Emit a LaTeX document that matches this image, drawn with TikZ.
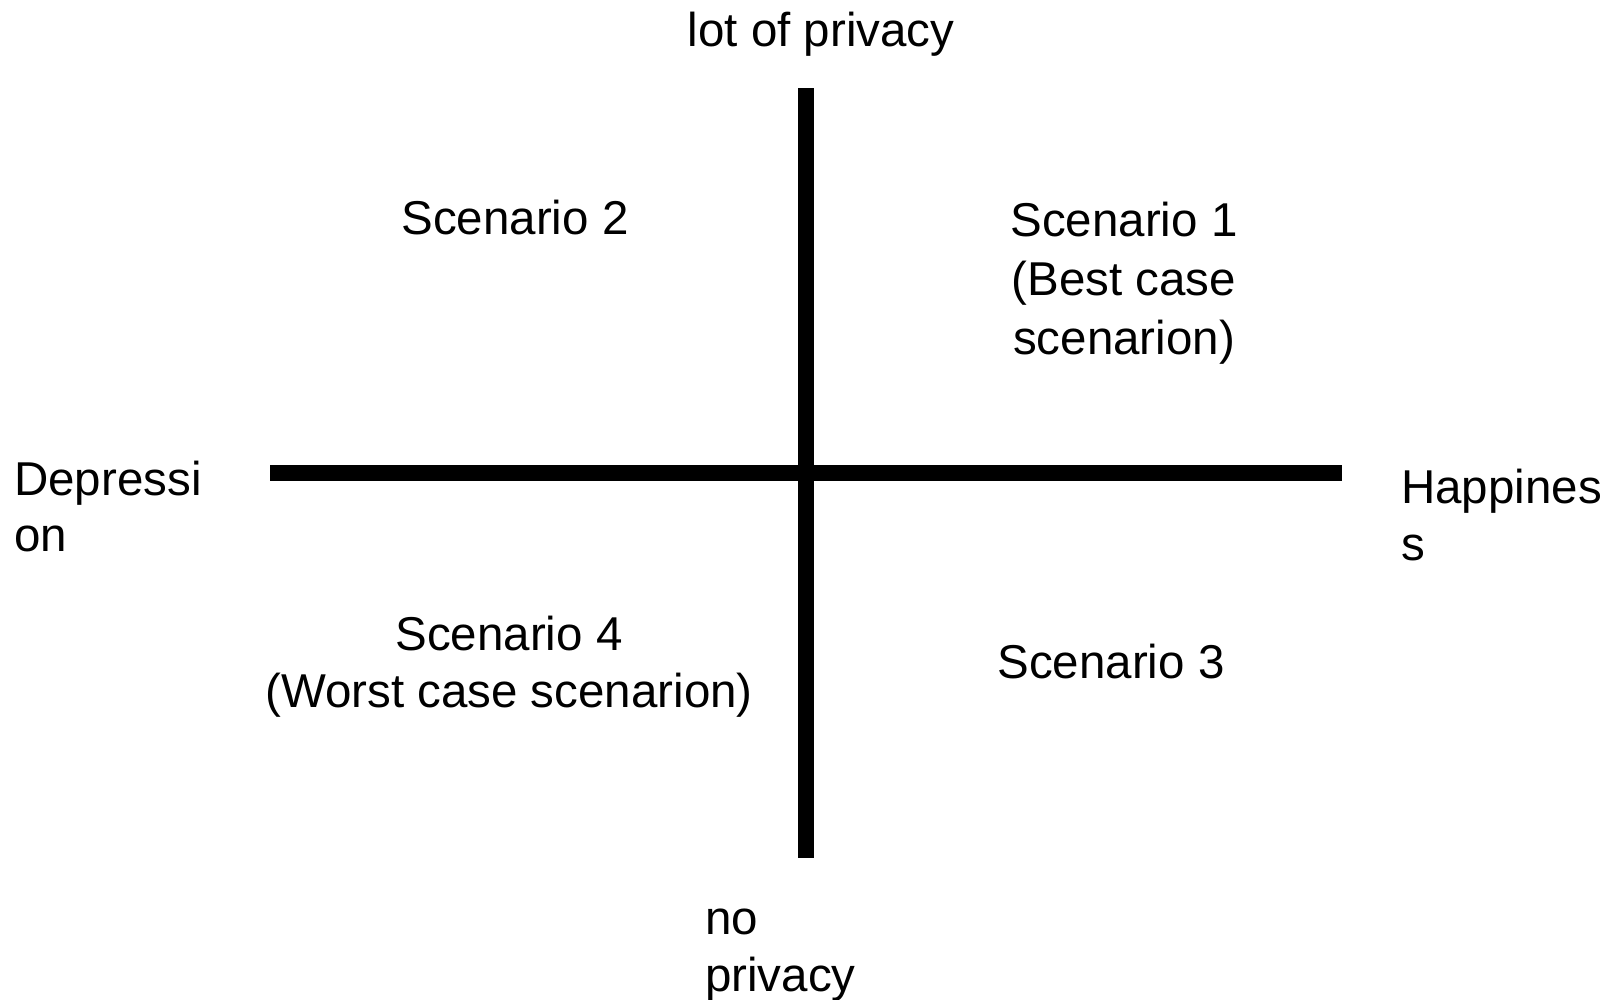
\documentclass[tikz,border=0pt]{standalone}
\usepackage{fontspec}
\setmainfont{Liberation Sans}
\begin{document}
\begin{tikzpicture}[x=1pt,y=-1pt,
  axis/.style={line width=16pt,black},
  lbl/.style={inner sep=0pt,font=\fontsize{47.5}{56.7}\selectfont},
  wide/.style={lbl,font=\fontsize{47.5}{59}\selectfont}]
  \useasboundingbox (0,0) rectangle (1614,999);

  % axes
  \coordinate (vtop) at (806,88);
  \coordinate (vbot) at (806,858);
  \coordinate (hl) at (270,473);
  \coordinate (hr) at (1342,473);
  \draw[axis] (vtop) -- (vbot);
  \draw[axis] (hl) -- (hr);

  % axis labels (multi-line nodes are placed by the baseline of their last line)
  \node[lbl,anchor=base] (top) at (821,46.7) {lot of privacy};
  \node[lbl,anchor=base west,align=left] (bottom) at (705,991) {no\\privacy};
  \node[lbl,anchor=base west,align=left] (left) at (14,551.7) {Depressi\\on};
  \node[lbl,anchor=base west,align=left] (right) at (1401,560) {Happines\\s};

  % quadrants
  \node[wide,anchor=base,align=center] (s1) at (1124,354.7) {Scenario 1\\(Best case\\scenarion)};
  \node[lbl,anchor=base] (s2) at (515,234) {Scenario 2};
  \node[lbl,anchor=base] (s3) at (1111,678.7) {Scenario 3};
  \node[lbl,anchor=base,align=center] (s4) at (509,707) {Scenario 4\\(Worst case scenarion)};
\end{tikzpicture}
\end{document}
